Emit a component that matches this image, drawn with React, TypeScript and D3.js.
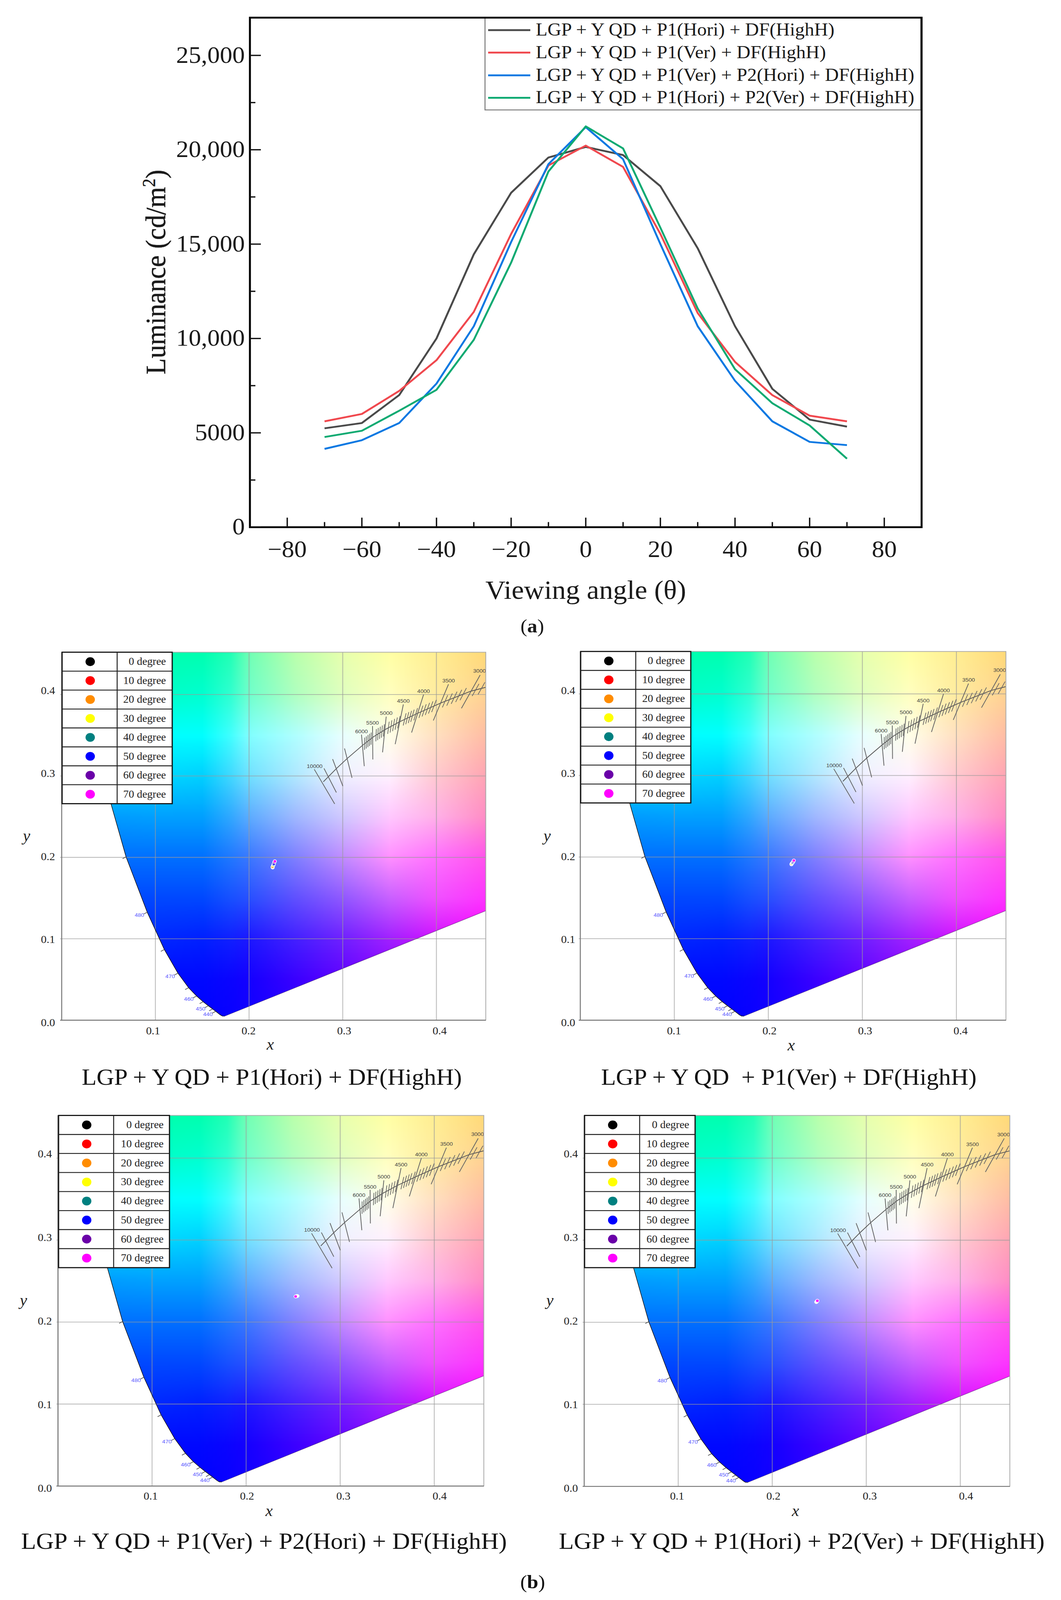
import React, { useMemo } from "react";
import * as d3 from "d3";

// ---------- luminance chart data ----------
const angles = [-70, -60, -50, -40, -30, -20, -10, 0, 10, 20, 30, 40, 50, 60, 70];
const seriesNames = [
  "LGP + Y QD + P1(Hori) + DF(HighH)",
  "LGP + Y QD + P1(Ver) + DF(HighH)",
  "LGP + Y QD + P1(Ver) + P2(Hori) + DF(HighH)",
  "LGP + Y QD + P1(Hori) + P2(Ver) + DF(HighH)",
];
const seriesColors = ["#4a4a4a", "#f0484e", "#0a78e2", "#0faa72"];
const lumHoriP1 = [5240, 5520, 7000, 10000, 14460, 17720, 19590, 20150, 19720, 18070, 14780, 10650, 7330, 5700, 5330];
const lumVerP1 = [5610, 6000, 7220, 8850, 11410, 15540, 19170, 20220, 19090, 15540, 11350, 8760, 7000, 5910, 5610];
const lumVerHori = [4150, 4610, 5520, 7610, 10650, 15110, 19240, 21200, 19500, 15000, 10650, 7760, 5610, 4520, 4350];
const lumHoriVer = [4780, 5110, 6170, 7280, 9930, 14020, 18850, 21240, 20070, 15870, 11590, 8370, 6570, 5390, 3630];
const lumSeries = [lumHoriP1, lumVerP1, lumVerHori, lumHoriVer];
const xMajor = [-80, -60, -40, -20, 0, 20, 40, 60, 80];
const xMinor = [-70, -50, -30, -10, 10, 30, 50, 70];
const yMajor = [0, 5000, 10000, 15000, 20000, 25000];
const yMinor = [2500, 7500, 12500, 17500, 22500];
const yLabels = ["0", "5000", "10,000", "15,000", "20,000", "25,000"];

// ---------- chromaticity data ----------
const locusX = [0.1741, 0.1714, 0.1689, 0.1644, 0.1611, 0.1566, 0.151, 0.144, 0.1355, 0.1241, 0.1096, 0.0913, 0.0687, 0.0454, 0.0235, 0.0082];
const locusY = [0.005, 0.0051, 0.0069, 0.0109, 0.0138, 0.0177, 0.0227, 0.0297, 0.0399, 0.0578, 0.0868, 0.1327, 0.2007, 0.295, 0.4127, 0.5384];
const nmTickIdx = [3, 4, 5, 6, 7, 8, 9, 10, 11, 12];
const nmLabelIdx: [number, string][] = [[3, "440"], [5, "450"], [7, "460"], [9, "470"], [11, "480"]];

const planckX = [0.2793, 0.2932, 0.3047, 0.3217, 0.3328, 0.3453, 0.3606, 0.38, 0.405, 0.4367, 0.4526];
const planckY = [0.2928, 0.309, 0.3214, 0.3382, 0.3481, 0.357, 0.3665, 0.377, 0.3898, 0.4041, 0.4089];
const isoLines: [number, number, number, number][] = [
  [0.2696, 0.3082, 0.2914, 0.2657],
  [0.28, 0.3093, 0.2932, 0.2797],
  [0.2892, 0.3207, 0.3001, 0.2876],
  [0.3019, 0.3338, 0.3099, 0.2977],
  [0.32, 0.3508, 0.323, 0.312],
  [0.3318, 0.3613, 0.3321, 0.3203],
  [0.3464, 0.3729, 0.3425, 0.329],
  [0.3647, 0.3879, 0.356, 0.339],
  [0.3863, 0.4, 0.3735, 0.3533],
  [0.4129, 0.4127, 0.3967, 0.3681],
  [0.4467, 0.424, 0.4267, 0.3831],
];
const isoLabels: [string, number, number][] = [
  ["10000", 0.27, 0.3123],
  ["6000", 0.32, 0.3548],
  ["5500", 0.3318, 0.3651],
  ["5000", 0.3464, 0.3774],
  ["4500", 0.3647, 0.3921],
  ["4000", 0.3863, 0.4043],
  ["3500", 0.413, 0.4171],
  ["3000", 0.446, 0.429],
];
const isoMinorX = [
  0.3233, 0.3251, 0.3269, 0.3286, 0.3303, 0.3356, 0.3376, 0.3397, 0.3418, 0.3439, 0.3488, 0.3515, 0.3543, 0.3571, 0.3599,
  0.3661, 0.3689, 0.3717, 0.3744, 0.3779, 0.3835, 0.3869, 0.3904, 0.3939, 0.3974, 0.4092, 0.414, 0.4189, 0.4238, 0.4286, 0.4418, 0.4481,
];
const isoTiltX = [0.322, 0.333, 0.346, 0.36, 0.38, 0.405, 0.437];
const isoTilt = [0, 0.02, 0.09, 0.18, 0.27, 0.36, 0.49];

const gridXs = [0, 0.05, 0.1, 0.15, 0.18, 0.2, 0.25, 0.3, 0.35, 0.4, 0.46];
const gridYs = [0, 0.05, 0.1, 0.15, 0.2, 0.25, 0.3, 0.35, 0.4, 0.46];
const colorGrid = [
  ["#0000ff", "#0000ff", "#0000ff", "#0000ff", "#0800ff", "#1200ff", "#2a00ff", "#4800ff", "#6800ff", "#8800ff", "#a800ff"],
  ["#0008ff", "#0008ff", "#0008ff", "#0008ff", "#0a04ff", "#1400ff", "#3a00ff", "#6000ff", "#8800ff", "#b000ff", "#d800ff"],
  ["#0028ff", "#0028ff", "#0028ff", "#0020ff", "#1020ff", "#1c18ff", "#4420ff", "#6f20ff", "#a020ff", "#d010ff", "#ff00ff"],
  ["#0048ff", "#0048ff", "#0048ff", "#0048ff", "#1850ff", "#2850ff", "#6050ff", "#9058ff", "#c860ff", "#f050ff", "#ff30ff"],
  ["#0070ff", "#0070ff", "#0070ff", "#0070ff", "#2078ff", "#3a78ff", "#8080ff", "#c08cff", "#ff90ff", "#ff70ff", "#ff50e8"],
  ["#009cff", "#009cff", "#00a0ff", "#00a0ff", "#30a8ff", "#5cacff", "#a0b8ff", "#d0c8ff", "#ffc8ff", "#ffb0e8", "#ff88c0"],
  ["#00ddff", "#00ddff", "#00d8ff", "#00d0ff", "#40d8ff", "#70e0ff", "#b0e8ff", "#f0f0ff", "#fff0ff", "#ffc8d0", "#ffa0b0"],
  ["#00ffe8", "#00ffe8", "#00ffff", "#00ffff", "#40ffff", "#80ffff", "#b0ffff", "#e8ffff", "#ffffe8", "#ffe0c0", "#ffb8a0"],
  ["#00ffc8", "#00ffc8", "#00ffc8", "#00ffd0", "#30ffd0", "#70ffcc", "#b0ffc0", "#e0ffc0", "#ffffc0", "#ffeca0", "#ffcf90"],
  ["#00ffaa", "#00ffaa", "#00ffaa", "#00ffaa", "#20ffb0", "#70ffb0", "#bbffa8", "#e8ffaa", "#ffffa0", "#ffee90", "#ffd870"],
];

const degreeLabels = ["0 degree", "10 degree", "20 degree", "30 degree", "40 degree", "50 degree", "60 degree", "70 degree"];
const degreeColors = ["#000000", "#ff0000", "#ff8c00", "#ffff00", "#008080", "#0000ff", "#6a00a8", "#ff00ff"];
const ptsP1X = [0.2252, 0.2252, 0.2252, 0.2258, 0.2262, 0.2265, 0.227, 0.2275];
const ptsP1Y = [0.1875, 0.188, 0.1885, 0.19, 0.191, 0.192, 0.194, 0.1952];
const ptsP2X = [0.2246, 0.2246, 0.2248, 0.2253, 0.2258, 0.2262, 0.2267, 0.2271];
const ptsP2Y = [0.191, 0.1914, 0.1918, 0.1925, 0.193, 0.1938, 0.1948, 0.1958];
const ptsP3X = [0.2546, 0.2544, 0.2541, 0.2538, 0.2535, 0.2532, 0.2529, 0.2526];
const ptsP3Y = [0.2318, 0.2318, 0.2317, 0.2316, 0.2315, 0.2314, 0.2313, 0.2312];
const ptsP4X = [0.2469, 0.2469, 0.2471, 0.2472, 0.2474, 0.2476, 0.2478, 0.248];
const ptsP4Y = [0.2246, 0.2246, 0.2249, 0.2251, 0.2253, 0.2256, 0.2259, 0.2262];
const xyTicks = [0.1, 0.2, 0.3, 0.4];
const xyYTicks = [0, 0.1, 0.2, 0.3, 0.4];

// ---------- layout ----------
const panels = [
  {
    id: "p1", caption: "LGP + Y QD + P1(Hori) + DF(HighH)", px: ptsP1X, py: ptsP1Y,
    left: 158, right: 1244, top: 1774, bottom: 2775,
    legLeft: 159, legRight: 441, legDiv: 300, legDot: 231, legText: 425, legTop: 1774, legBottom: 2186,
    xl1: 392, xl4: 1126, xlBase: 2813, ylRight: 141, yl0: 2781, yl4: 1878,
    tx: [692, 2845], ty: [68, 2280], capX: 696, capBase: 2951, capSize: 62.4,
  },
  {
    id: "p2", caption: "LGP + Y QD  + P1(Ver) + DF(HighH)", px: ptsP2X, py: ptsP2Y,
    left: 1486, right: 2576, top: 1772, bottom: 2775,
    legLeft: 1487, legRight: 1769, legDiv: 1628, legDot: 1559, legText: 1754, legTop: 1772, legBottom: 2184,
    xl1: 1726, xl4: 2460, xlBase: 2813, ylRight: 1473, yl0: 2781, yl4: 1878,
    tx: [2026, 2847], ty: [1401, 2280], capX: 2020, capBase: 2951, capSize: 62.4,
  },
  {
    id: "p3", caption: "LGP + Y QD + P1(Ver) + P2(Hori) + DF(HighH)", px: ptsP3X, py: ptsP3Y,
    left: 148.5, right: 1239, top: 3034, bottom: 4042,
    legLeft: 150, legRight: 434, legDiv: 291, legDot: 222, legText: 419, legTop: 3034, legBottom: 3448,
    xl1: 386, xl4: 1126, xlBase: 4079, ylRight: 133, yl0: 4048, yl4: 3138,
    tx: [689, 4114], ty: [60, 3543], capX: 676, capBase: 4213, capSize: 62.9,
  },
  {
    id: "p4", caption: "LGP + Y QD + P1(Hori) + P2(Ver) + DF(HighH)", px: ptsP4X, py: ptsP4Y,
    left: 1496, right: 2586, top: 3034, bottom: 4043,
    legLeft: 1497, legRight: 1780, legDiv: 1638, legDot: 1569, legText: 1765, legTop: 3034, legBottom: 3448,
    xl1: 1734, xl4: 2474, xlBase: 4079, ylRight: 1480, yl0: 4048, yl4: 3138,
    tx: [2037, 4114], ty: [1408, 3543], capX: 2053, capBase: 4213, capSize: 62.9,
  },
];
const serif = "'Liberation Serif', serif";
const sans = "'Liberation Sans', sans-serif";
const X_MAX = 0.4527;
const Y_MAX = 0.452;
const PAGE_W = 2717;
const PAGE_H = 4352;

function makeField(): string {
  const w = 240;
  const h = 240;
  const c = document.createElement("canvas");
  c.width = w;
  c.height = h;
  const ctx = c.getContext("2d")!;
  const img = ctx.createImageData(w, h);
  const rgb = colorGrid.map((r) => r.map((s) => d3.rgb(s)));
  for (let j = 0; j < h; j++) {
    const y = Y_MAX * (1 - (j + 0.5) / h);
    const r = Math.min(gridYs.length - 2, d3.bisectRight(gridYs, y) - 1);
    const v = (y - gridYs[r]) / (gridYs[r + 1] - gridYs[r]);
    for (let i = 0; i < w; i++) {
      const x = (X_MAX * (i + 0.5)) / w;
      const k = Math.min(gridXs.length - 2, d3.bisectRight(gridXs, x) - 1);
      const u = (x - gridXs[k]) / (gridXs[k + 1] - gridXs[k]);
      const a = rgb[r][k], b = rgb[r][k + 1], e = rgb[r + 1][k], f = rgb[r + 1][k + 1];
      const mix = (p: number, q: number, s: number, t: number) => (p * (1 - u) + q * u) * (1 - v) + (s * (1 - u) + t * u) * v;
      const o = (j * w + i) * 4;
      img.data[o] = mix(a.r, b.r, e.r, f.r);
      img.data[o + 1] = mix(a.g, b.g, e.g, f.g);
      img.data[o + 2] = mix(a.b, b.b, e.b, f.b);
      img.data[o + 3] = 255;
    }
  }
  ctx.putImageData(img, 0, 0);
  return c.toDataURL("image/png");
}

function LumChart() {
  const x = d3.scaleLinear().domain([-90, 90]).range([640, 2360]);
  const y = d3.scaleLinear().domain([0, 27000]).range([1434, 48]);
  const line = d3
    .line<number>()
    .x((_, i) => x(angles[i]))
    .y((d) => y(d));
  const rows = [82, 143, 205, 266];
  return (
    <g fontFamily={serif} fill="#1a1a1a">
      {lumSeries.map((s, i) => (
        <path key={i} d={line(s) ?? ""} fill="none" stroke={seriesColors[i]} strokeWidth={5} strokeLinejoin="round" />
      ))}
      <rect x={1242} y={48} width={1116} height={251} fill="white" fillOpacity={0} stroke="#777" strokeWidth={2.5} />
      {seriesNames.map((n, i) => (
        <g key={n}>
          <line x1={1250} x2={1358} y1={rows[i]} y2={rows[i]} stroke={seriesColors[i]} strokeWidth={5} />
          <text x={1372} y={rows[i] + 15} fontSize={49}>{n}</text>
        </g>
      ))}
      <rect x={640} y={48} width={1720} height={1386} fill="none" stroke="#000" strokeWidth={5} />
      {xMajor.map((t, i) => (
        <g key={t}>
          <line x1={x(t)} x2={x(t)} y1={1434} y2={1408} stroke="#111" strokeWidth={3.5} />
          <text x={x(t)} y={1515} fontSize={64} textAnchor="middle">{t < 0 ? `\u2212${-t}` : t}</text>
        </g>
      ))}
      {xMinor.map((t) => (
        <line key={t} x1={x(t)} x2={x(t)} y1={1434} y2={1420} stroke="#111" strokeWidth={3.5} />
      ))}
      {yMajor.map((t, i) => (
        <g key={t}>
          <line x1={640} x2={668} y1={y(t)} y2={y(t)} stroke="#111" strokeWidth={3.5} />
          <text x={627} y={y(t) + 20} fontSize={64} textAnchor="end">{yLabels[i]}</text>
        </g>
      ))}
      {yMinor.map((t) => (
        <line key={t} x1={640} x2={654} y1={y(t)} y2={y(t)} stroke="#111" strokeWidth={3.5} />
      ))}
      <text transform="translate(423,740) rotate(-90)" fontSize={72} textAnchor="middle" stroke="#1a1a1a" strokeWidth={0.7}>
        Luminance (cd/m<tspan fontSize={46} dy={-26}>2</tspan><tspan dy={26}>)</tspan>
      </text>
      <text x={1500} y={1629} fontSize={71.5} textAnchor="middle">Viewing angle (θ)</text>
      <text x={1363} y={1720} fontSize={52} textAnchor="middle">(<tspan fontWeight="bold">a</tspan>)</text>
    </g>
  );
}

type Panel = (typeof panels)[number];

function Chroma({ p, field }: { p: Panel; field: string }) {
  const x = d3.scaleLinear().domain([0, X_MAX]).range([p.left, p.right]);
  const y = d3.scaleLinear().domain([0, Y_MAX]).range([p.bottom, p.top]);
  const xLab = d3.scaleLinear().domain([0.1, 0.4]).range([p.xl1, p.xl4]);
  const yLab = d3.scaleLinear().domain([0, 0.4]).range([p.yl0, p.yl4]);
  const planck = d3.scaleLinear().domain(planckX).range(planckY);
  const tilt = d3.scaleLinear().domain(isoTiltX).range(isoTilt).clamp(true);
  const path = d3.line<number>().x((_, i) => x(locusX[i])).y((d) => y(d));
  const pl = d3.line<number>().x((_, i) => x(planckX[i])).y((d) => y(d));
  const poly = [
    ...locusX.map((lx, i) => [x(lx), y(locusY[i])]),
    [x(0.7347), y(0.5384)],
    [x(0.7347), y(0.2653)],
  ].map((q) => q.join(",")).join(" ");
  const rowH = (p.legBottom - p.legTop) / degreeLabels.length;
  const clip = `clip-${p.id}`;
  const clipF = `frame-${p.id}`;
  return (
    <g fontFamily={serif}>
      <defs>
        <clipPath id={clip}><polygon points={poly} /></clipPath>
        <clipPath id={clipF}><rect x={p.left} y={p.top} width={p.right - p.left} height={p.bottom - p.top} /></clipPath>
      </defs>
      <g clipPath={`url(#${clipF})`}>
        <image href={field} x={p.left} y={p.top} width={p.right - p.left} height={p.bottom - p.top}
          preserveAspectRatio="none" clipPath={`url(#${clip})`} />
      </g>
      {xyTicks.map((t) => (
        <line key={t} x1={x(t)} x2={x(t)} y1={p.top} y2={p.bottom} stroke="#999" strokeOpacity={0.65} strokeWidth={2.2} />
      ))}
      {xyYTicks.slice(1).map((t) => (
        <line key={t} x1={p.left - 4} x2={p.right} y1={y(t)} y2={y(t)} stroke="#999" strokeOpacity={0.65} strokeWidth={2.2} />
      ))}
      <g clipPath={`url(#${clipF})`}>
        <path d={path(locusY) ?? ""} fill="none" stroke="#111" strokeWidth={1.5} />
        <line x1={x(locusX[0])} y1={y(locusY[0])} x2={x(0.7347)} y2={y(0.2653)} stroke="#301050" strokeOpacity={0.6} strokeWidth={1.2} />
        <path d={pl(planckY) ?? ""} fill="none" stroke="#555" strokeWidth={2} />
        {isoLines.map((l, i) => (
          <line key={i} x1={x(l[0])} y1={y(l[1])} x2={x(l[2])} y2={y(l[3])} stroke="#666" strokeWidth={2} />
        ))}
        {isoMinorX.map((mx) => {
          const c = planck(mx);
          const t = tilt(mx);
          return <line key={mx} x1={x(mx + t * 0.0075)} y1={y(c + 0.0075)} x2={x(mx - t * 0.0075)} y2={y(c - 0.0075)} stroke="#666" strokeWidth={1.8} />;
        })}
        {isoLabels.map(([s, lx, ly]) => (
          <text key={s} x={x(lx)} y={y(ly) + 5} fontSize={14.5} fontFamily={sans} fill="#444" textAnchor="middle">{s}</text>
        ))}
      </g>
      {nmTickIdx.map((i) => {
        const a = x(locusX[i]), b = y(locusY[i]);
        return <line key={i} x1={a} y1={b} x2={a - 9} y2={b + 5} stroke="#555" strokeWidth={1.8} />;
      })}
      {nmLabelIdx.map(([i, s]) => (
        <text key={s} x={x(locusX[i]) - 20} y={y(locusY[i]) + 13} fontSize={14.5} fontFamily={sans} fill="#5a5aff" textAnchor="middle">{s}</text>
      ))}
      <rect x={p.left} y={p.top} width={p.right - p.left} height={p.bottom - p.top} fill="none" stroke="#aaa" strokeWidth={2} />
      <line x1={p.left} x2={p.left} y1={p.top} y2={p.bottom} stroke="#777" strokeWidth={2.5} />
      <line x1={p.left - 4} x2={p.right} y1={p.bottom} y2={p.bottom} stroke="#777" strokeWidth={2.5} />
      {p.px.map((px, i) => (
        <circle key={i} cx={x(px)} cy={y(p.py[i])} r={4.2} fill={degreeColors[i]} stroke="#fff" strokeWidth={1.6} />
      ))}
      <rect x={p.legLeft} y={p.legTop} width={p.legRight - p.legLeft} height={p.legBottom - p.legTop} fill="#fff" stroke="#111" strokeWidth={3} />
      <line x1={p.legDiv} x2={p.legDiv} y1={p.legTop} y2={p.legBottom} stroke="#222" strokeWidth={2.5} />
      {degreeLabels.map((s, i) => {
        const cy = p.legTop + rowH * (i + 0.5);
        return (
          <g key={s}>
            {i > 0 && <line x1={p.legLeft} x2={p.legRight} y1={p.legTop + rowH * i} y2={p.legTop + rowH * i} stroke="#222" strokeWidth={2.5} />}
            <circle cx={p.legDot} cy={cy} r={12} fill={degreeColors[i]} />
            <text x={p.legText} y={cy + 9} fontSize={28} fill="#222" textAnchor="end">{s}</text>
          </g>
        );
      })}
      {xyTicks.map((t) => (
        <text key={t} x={xLab(t)} y={p.xlBase} fontSize={29} fill="#222" textAnchor="middle">{t.toFixed(1)}</text>
      ))}
      {xyYTicks.map((t) => (
        <text key={t} x={p.ylRight} y={yLab(t) + 10} fontSize={29} fill="#222" textAnchor="end">{t.toFixed(1)}</text>
      ))}
      <text x={p.tx[0]} y={p.tx[1] + 10} fontSize={42} fontStyle="italic" fill="#222" textAnchor="middle">x</text>
      <text x={p.ty[0]} y={p.ty[1] + 8} fontSize={42} fontStyle="italic" fill="#222" textAnchor="middle">y</text>
      <text x={p.capX} y={p.capBase} fontSize={p.capSize} fill="#111" textAnchor="middle" style={{ whiteSpace: "pre" }}>{p.caption}</text>
    </g>
  );
}

export default function App() {
  const field = useMemo(makeField, []);
  // The sandbox's browser reports a 2717x4096 window, not the requested 2717x4352, and its
  // photograph stops at the window's edge. The drawing keeps the reference's 2717x4352 coordinates
  // and fits the height actually available, so nothing is cut. In a full-size window this is 1:1;
  // in the 4096 window the figure is squeezed vertically by about 6%.
  const fitHeight = Math.min(PAGE_H, window.innerHeight);
  return (
    <svg width={PAGE_W} height={fitHeight} viewBox={`0 0 ${PAGE_W} ${PAGE_H}`} preserveAspectRatio="none"
      style={{ position: "absolute", left: 0, top: 0, display: "block", background: "#fff" }}>
      <LumChart />
      {panels.map((p) => (
        <Chroma key={p.id} p={p} field={field} />
      ))}
      <text x={1364} y={4320} fontFamily={serif} fontSize={52} fill="#111" textAnchor="middle">(<tspan fontWeight="bold">b</tspan>)</text>
    </svg>
  );
}
